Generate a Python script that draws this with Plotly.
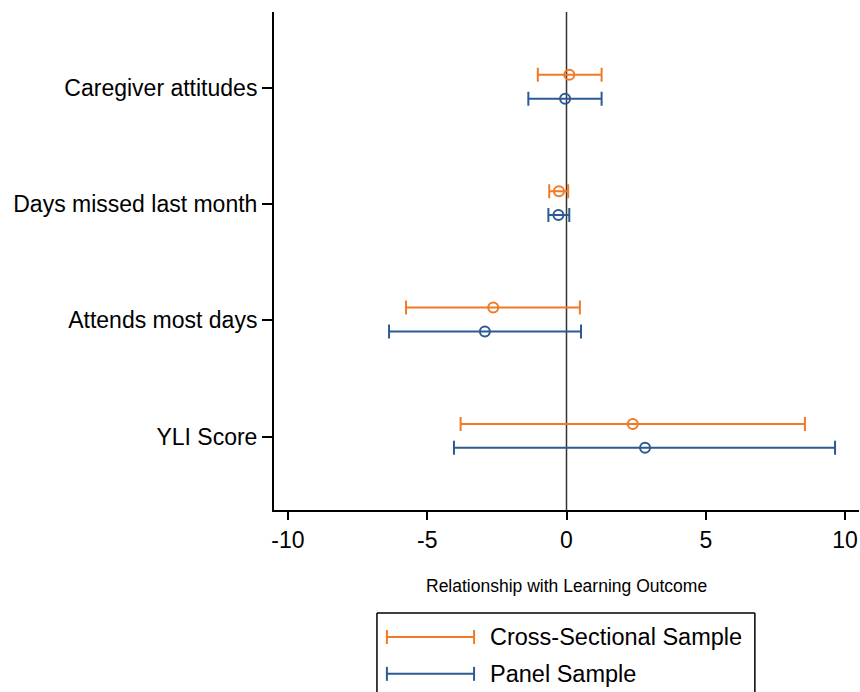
import plotly.graph_objects as go

categories = ["Caregiver attitudes", "Days missed last month", "Attends most days", "YLI Score"]
cat_pos = [4, 3, 2, 1]

cs_est = [0.10, -0.27, -2.63, 2.38]
cs_lo = [-1.03, -0.62, -5.76, -3.80]
cs_hi = [1.26, 0.06, 0.48, 8.56]

pn_est = [-0.05, -0.29, -2.93, 2.82]
pn_lo = [-1.37, -0.65, -6.37, -4.04]
pn_hi = [1.26, 0.10, 0.52, 9.64]

x_ticks = [-10, -5, 0, 5, 10]

ORANGE = "#F27A24"
BLUE = "#2C5A94"
FONT = "Liberation Sans, Arial, sans-serif"

fig = go.Figure()

def add_series(est, lo, hi, offset, color, name):
    fig.add_trace(go.Scatter(
        x=est,
        y=[p + offset for p in cat_pos],
        mode="markers",
        name=name,
        marker=dict(symbol="circle-open", size=10, color=color, line=dict(width=2, color=color)),
        error_x=dict(type="data", symmetric=False,
                     array=[h - e for h, e in zip(hi, est)],
                     arrayminus=[e - l for e, l in zip(est, lo)],
                     color=color, thickness=2, width=7),
        showlegend=False,
    ))

add_series(cs_est, cs_lo, cs_hi, 0.11, ORANGE, "Cross-Sectional Sample")
add_series(pn_est, pn_lo, pn_hi, -0.095, BLUE, "Panel Sample")

shapes = [
    # zero reference line
    dict(type="line", xref="x", yref="paper", x0=0, x1=0, y0=0, y1=1,
         line=dict(color="#333333", width=1.5), layer="below"),
]

# custom legend box (three sides visible; bottom falls outside the page)
box_l, box_r, box_t, box_b = 0.176, 0.822, -0.207, -0.37
shapes += [
    dict(type="line", xref="paper", yref="paper", x0=box_l, x1=box_r, y0=box_t, y1=box_t,
         line=dict(color="black", width=1.5)),
    dict(type="line", xref="paper", yref="paper", x0=box_l, x1=box_l, y0=box_t, y1=box_b,
         line=dict(color="black", width=1.5)),
    dict(type="line", xref="paper", yref="paper", x0=box_r, x1=box_r, y0=box_t, y1=box_b,
         line=dict(color="black", width=1.5)),
]
annotations = []
legend_items = [("Cross-Sectional Sample", ORANGE, -0.255), ("Panel Sample", BLUE, -0.329)]
for label, color, yy in legend_items:
    shapes.append(dict(type="line", xref="paper", yref="paper", x0=0.193, x1=0.342, y0=yy, y1=yy,
                       line=dict(color=color, width=2)))
    for xx in (0.193, 0.342):
        shapes.append(dict(type="line", xref="paper", yref="paper", x0=xx, x1=xx,
                           y0=yy - 0.014, y1=yy + 0.014, line=dict(color=color, width=2)))
    annotations.append(dict(xref="paper", yref="paper", x=0.365, y=yy, text=label, showarrow=False,
                            xanchor="left", yanchor="middle", font=dict(family=FONT, size=23.5, color="black")))

annotations.append(dict(xref="paper", yref="paper", x=0.5, y=-0.153, text="Relationship with Learning Outcome",
                        showarrow=False, xanchor="center", yanchor="middle",
                        font=dict(family=FONT, size=17.5, color="black")))

fig.update_layout(
    width=860, height=692,
    margin=dict(l=274, r=1, t=12, b=182),
    paper_bgcolor="white", plot_bgcolor="white",
    font=dict(family=FONT, color="black"),
    shapes=shapes, annotations=annotations,
    showlegend=False,
)
fig.update_xaxes(range=[-10.5, 10.5], tickvals=x_ticks, ticktext=[str(v) for v in x_ticks],
                 showgrid=False, zeroline=False, showline=True, linecolor="black", linewidth=2,
                 ticks="outside", ticklen=8, tickwidth=1.5, tickcolor="black",
                 tickfont=dict(size=23, family=FONT, color="black"))
fig.update_yaxes(range=[0.37, 4.65], tickvals=cat_pos, ticktext=categories,
                 showgrid=False, zeroline=False, showline=True, linecolor="black", linewidth=2,
                 ticks="outside", ticklen=10, tickwidth=1.5, tickcolor="black",
                 tickfont=dict(size=23, family=FONT, color="black"))

fig.write_html("out.html")
